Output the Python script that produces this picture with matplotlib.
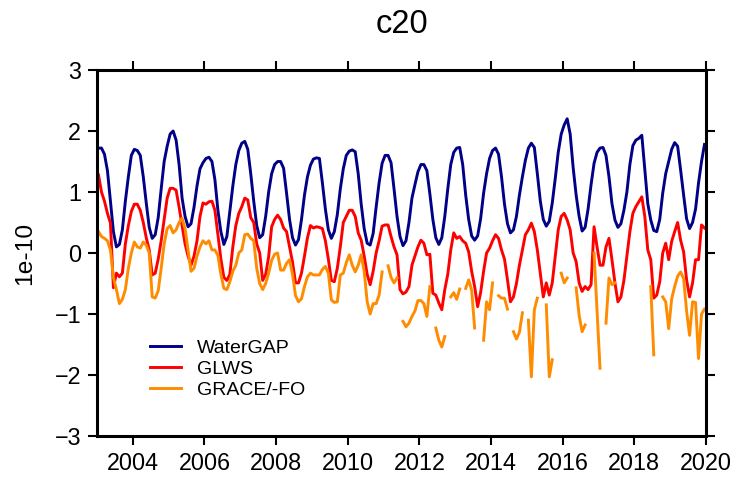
import numpy as np
import matplotlib
matplotlib.use("Agg")
import matplotlib.pyplot as plt
import matplotlib.font_manager as fm

nan = np.nan

# monthly values 2003-2019 (units of 1e-10), one row per year
watergap = [
    1.72, 1.72, 1.62, 1.35, 0.85, 0.35, 0.10, 0.14, 0.38, 0.85, 1.25, 1.60,
    1.70, 1.68, 1.60, 1.25, 0.82, 0.42, 0.24, 0.30, 0.58, 1.05, 1.50, 1.75,
    1.95, 2.00, 1.85, 1.45, 0.90, 0.60, 0.43, 0.48, 0.75, 1.10, 1.38, 1.48,
    1.55, 1.57, 1.50, 1.20, 0.70, 0.35, 0.14, 0.27, 0.68, 1.10, 1.45, 1.68,
    1.80, 1.83, 1.70, 1.30, 0.85, 0.45, 0.25, 0.30, 0.60, 1.00, 1.30, 1.45,
    1.50, 1.50, 1.39, 0.98, 0.55, 0.25, 0.13, 0.22, 0.55, 0.95, 1.25, 1.44,
    1.54, 1.56, 1.55, 1.15, 0.72, 0.38, 0.24, 0.35, 0.63, 1.05, 1.38, 1.60,
    1.67, 1.69, 1.66, 1.30, 0.80, 0.40, 0.16, 0.13, 0.32, 0.75, 1.15, 1.47,
    1.60, 1.60, 1.48, 1.05, 0.60, 0.27, 0.12, 0.20, 0.50, 0.90, 1.12, 1.33,
    1.45, 1.45, 1.35, 0.97, 0.55, 0.25, 0.14, 0.25, 0.60, 1.05, 1.45, 1.65,
    1.72, 1.73, 1.45, 0.95, 0.55, 0.28, 0.21, 0.28, 0.56, 0.98, 1.30, 1.55,
    1.68, 1.72, 1.62, 1.25, 0.80, 0.48, 0.33, 0.38, 0.60, 0.95, 1.25, 1.52,
    1.72, 1.80, 1.73, 1.30, 0.85, 0.55, 0.44, 0.52, 0.82, 1.22, 1.65, 1.95,
    2.10, 2.20, 1.95, 1.40, 0.95, 0.60, 0.36, 0.42, 0.72, 1.12, 1.47, 1.65,
    1.72, 1.73, 1.60, 1.25, 0.81, 0.54, 0.42, 0.48, 0.70, 1.00, 1.45, 1.76,
    1.85, 1.88, 1.93, 1.38, 0.81, 0.54, 0.37, 0.35, 0.55, 0.98, 1.30, 1.50,
    1.70, 1.81, 1.75, 1.36, 0.95, 0.56, 0.40, 0.50, 0.72, 1.15, 1.50, 1.78,
]

glws = [
    1.28, 1.00, 0.85, 0.65, 0.49, -0.57, -0.33, -0.39, -0.33, 0.15, 0.45, 0.68,
    0.80, 0.80, 0.70, 0.50, 0.25, 0.05, -0.36, -0.33, -0.10, 0.20, 0.55, 0.90,
    1.06, 1.06, 1.03, 0.75, 0.45, 0.15, -0.05, -0.20, -0.05, 0.20, 0.60, 0.82,
    0.80, 0.84, 0.85, 0.70, 0.30, -0.10, -0.40, -0.45, -0.35, 0.10, 0.45, 0.65,
    0.76, 0.90, 0.87, 0.58, 0.50, 0.15, 0.00, -0.45, -0.35, -0.06, 0.43, 0.55,
    0.62, 0.55, 0.41, 0.35, 0.10, -0.15, -0.49, -0.49, -0.33, -0.05, 0.25, 0.45,
    0.41, 0.43, 0.42, 0.40, 0.20, -0.10, -0.45, -0.47, -0.25, 0.10, 0.50, 0.60,
    0.70, 0.70, 0.60, 0.33, 0.21, -0.05, -0.35, -0.52, -0.30, 0.00, 0.20, 0.44,
    0.46, 0.46, 0.27, 0.10, -0.03, -0.60, -0.67, -0.64, -0.55, -0.20, -0.05, 0.10,
    0.21, 0.16, -0.03, -0.02, -0.66, -0.69, -0.82, -0.93, -0.60, -0.35, 0.05, 0.33,
    0.24, 0.27, 0.20, 0.16, 0.02, -0.30, -0.55, -0.88, -0.65, -0.30, 0.00, 0.08,
    0.20, 0.30, 0.24, 0.05, -0.10, -0.44, -0.80, -0.72, -0.50, -0.20, 0.05, 0.30,
    0.38, 0.49, 0.35, 0.05, -0.33, -0.72, -0.49, -0.69, -0.49, -0.06, 0.38, 0.60,
    0.65, 0.54, 0.38, 0.00, -0.14, -0.49, -0.63, -0.55, -0.60, -0.52, 0.43, 0.10,
    -0.20, -0.20, 0.10, 0.24, -0.11, -0.49, -0.80, -0.72, -0.45, -0.05, 0.35, 0.65,
    0.76, 0.84, 0.92, 0.60, 0.05, -0.11, -0.74, -0.69, -0.47, 0.00, 0.16, -0.11,
    0.19, 0.35, 0.50, 0.21, 0.02, -0.44, -0.72, -0.49, -0.11, -0.11, 0.46, 0.41,
]

grace = [
    0.35, 0.27, 0.24, 0.20, 0.05, -0.40, -0.60, -0.83, -0.76, -0.60, -0.25, 0.00,
    0.18, 0.10, 0.08, 0.18, 0.13, 0.00, -0.72, -0.74, -0.62, -0.25, 0.15, 0.40,
    0.45, 0.33, 0.38, 0.50, 0.57, 0.40, 0.05, -0.30, -0.25, -0.05, 0.10, 0.20,
    0.15, 0.20, 0.05, 0.05, -0.04, -0.35, -0.58, -0.60, -0.47, -0.30, -0.20, 0.00,
    0.05, 0.30, 0.31, 0.24, 0.20, -0.25, -0.50, -0.60, -0.50, -0.33, -0.12, -0.02,
    0.00, -0.28, -0.28, -0.17, -0.11, -0.35, -0.70, -0.80, -0.75, -0.55, -0.39, -0.33,
    -0.36, -0.36, -0.36, -0.27, -0.22, -0.33, -0.77, -0.81, -0.80, -0.36, -0.33, -0.16,
    -0.03, -0.20, -0.31, -0.20, -0.03, -0.30, -0.80, -1.00, -0.83, -0.83, -0.69, -0.31,
    nan, -0.21, -0.40, -0.49, -0.41, nan, -1.12, -1.21, -1.15, -1.04, -0.95, -0.78,
    -0.78, -0.83, -1.04, -0.55, nan, -1.23, -1.43, -1.54, -1.37, nan, -0.72, -0.65,
    -0.76, -0.59, nan, -0.58, -0.44, -0.61, -1.23, nan, nan, -1.43, -0.80, -0.93,
    -0.49, nan, -0.70, -0.74, -0.74, -0.92, nan, -1.29, -1.41, -1.30, -0.98, nan,
    -1.10, -2.03, -0.93, -0.74, nan, nan, -0.85, -2.03, -1.75, nan, nan, -0.33,
    -0.49, -0.41, nan, nan, -0.57, -1.02, -1.29, -1.18, nan, nan, 0.00, -0.95,
    -1.89, nan, -1.15, -0.41, -0.52, -0.49, nan, nan, nan, nan, nan, nan,
    nan, nan, nan, nan, nan, -0.55, -1.67, nan, nan, -0.72, -0.80, -1.24,
    -0.75, -0.55, -0.38, -0.31, -0.42, -0.95, -1.35, -0.80, -0.81, -1.73, -1.00, -0.92,
]

labels = ["WaterGAP", "GLWS", "GRACE/-FO"]
colors = ["#000088", "#ff0000", "#ff8c00"]
xticks = list(range(2004, 2021, 2))
yticks = list(range(-3, 4))

time = 2003 + (np.arange(len(watergap)) + 0.5) / 12

# narrow helvetica look if available
names = {f.name for f in fm.fontManager.ttflist}
if "Liberation Sans Narrow" in names:
    fam, s = "Liberation Sans Narrow", 1.0
else:
    fam, s = "Liberation Sans", 0.84
plt.rcParams["font.family"] = [fam, "DejaVu Sans"]

fig = plt.figure(figsize=(7.32, 4.80), dpi=100)
ax = fig.add_axes([97 / 732, 1 - 436 / 480, 609 / 732, 366 / 480])

for vals, lab, c in zip([watergap, glws, grace], labels, colors):
    ax.plot(time, vals, color=c, lw=2.1, label=lab)

ax.set_xlim(2003, 2020)
ax.set_ylim(-3, 3)
ax.set_xticks(xticks)
ax.set_yticks(yticks)
ax.tick_params(direction="out", top=True, right=True, length=6.5, width=1.5,
               labelsize=20 * s, pad=5)
for sp in ax.spines.values():
    sp.set_linewidth(2.2)

ax.set_ylabel("1e-10", fontsize=21 * s)
ax.yaxis.set_label_coords(-0.10, 0.5)

fig.text(0.5485, 1 - 33 / 480, "c20", ha="center", va="baseline", fontsize=28 * s)

ax.legend(loc="upper left", bbox_to_anchor=(0.087, 0.264), frameon=False,
          fontsize=16.7 * s, handlelength=1.6, handletextpad=0.8,
          labelspacing=0.17, borderpad=0, borderaxespad=0)

fig.savefig("out.png", dpi=100)
